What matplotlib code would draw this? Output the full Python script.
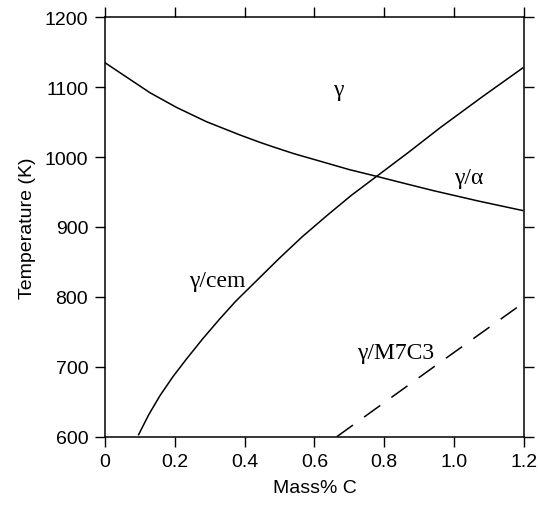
import matplotlib
matplotlib.use("Agg")
import matplotlib.pyplot as plt

# phase boundaries (mass% C, temperature K)
ga_x = [0.0, 0.072, 0.129, 0.205, 0.291, 0.387, 0.444, 0.482, 0.54,
        0.625, 0.70, 0.778, 0.86, 0.94, 1.07, 1.198]
ga_t = [1135, 1111, 1092, 1071, 1050.5, 1031.5, 1021, 1014.5, 1005,
        992.8, 982, 972.4, 962, 952, 937, 923.3]

cem_x = [0.0955, 0.125, 0.158, 0.195, 0.234, 0.28, 0.329, 0.375, 0.425,
         0.499, 0.565, 0.635, 0.705, 0.778, 0.87, 0.96, 1.08, 1.198]
cem_t = [601.9, 631, 659, 686, 711.4, 740, 768.6, 794, 818.6,
         855, 886, 916, 945, 972.4, 1007, 1042, 1086, 1128]

m7_x = [0.664, 0.945, 1.2]
m7_t = [600, 701, 792]

xticks = [0, 0.2, 0.4, 0.6, 0.8, 1.0, 1.2]
xlabels = ["0", "0.2", "0.4", "0.6", "0.8", "1.0", "1.2"]
yticks = [600, 700, 800, 900, 1000, 1100, 1200]

plt.rcParams["font.family"] = ["Liberation Sans", "DejaVu Sans"]

fig = plt.figure(figsize=(5.38, 5.06), dpi=100)
ax = fig.add_axes([0.195, 0.135, 0.779, 0.829])

line_kw = dict(color="black", lw=1.1, solid_capstyle="butt")
ax.plot(ga_x, ga_t, **line_kw)
ax.plot(cem_x, cem_t, **line_kw)
ax.plot(m7_x, m7_t, dashes=(13, 9), **line_kw)

ax.set_xlim(0, 1.2)
ax.set_ylim(600, 1200)
ax.set_xticks(xticks)
ax.set_xticklabels(xlabels)
ax.set_yticks(yticks)
ax.tick_params(direction="out", length=7, width=1, labelsize=14, pad=5,
               top=True, right=True, colors="black")
for s in ax.spines.values():
    s.set_linewidth(1.1)

ax.set_xlabel("Mass% C", fontsize=14, labelpad=6)
ax.set_ylabel("Temperature (K)", fontsize=14, labelpad=6)

serif = dict(family=["Liberation Serif", "DejaVu Serif"], fontsize=17,
             ha="center", va="center")
ax.text(0.667, 1096, "γ", **serif)
ax.text(1.043, 971, "γ/α", **serif)
ax.text(0.321, 823, "γ/cem", **serif)
ax.text(0.831, 721, "γ/M7C3", **serif)

fig.savefig("out.png", dpi=100)
